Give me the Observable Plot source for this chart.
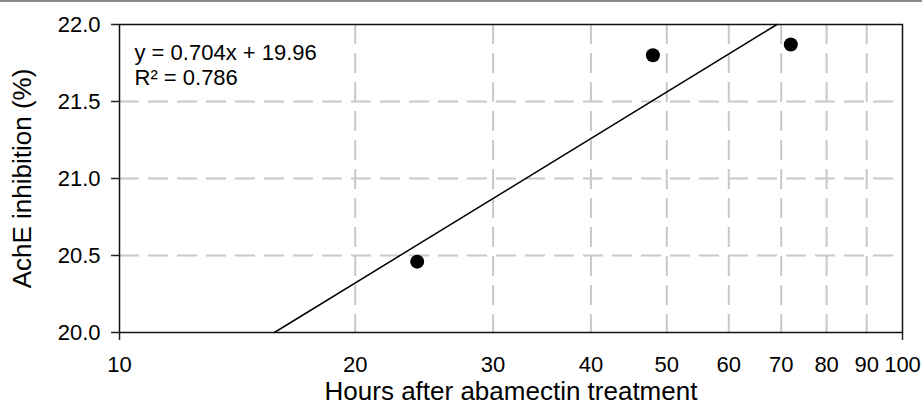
<!DOCTYPE html>
<html>
<head>
<meta charset="utf-8">
<script src="https://cdn.jsdelivr.net/npm/d3@7"></script>
<script src="https://cdn.jsdelivr.net/npm/@observablehq/plot@0.6"></script>
<style>
  html, body { margin: 0; padding: 0; background: #fff; }
  #wrap { position: relative; width: 922px; height: 406px; overflow: hidden; }
  #topline { position: absolute; left: 0; top: 0; width: 922px; height: 2px; background: #8a8a8a; }
  svg { font-family: "Liberation Sans", Arial, sans-serif; }
</style>
</head>
<body>
<div id="wrap"><div id="topline"></div></div>
<script>
// Data
const hours = [24, 48, 72];
const inhibition = [20.46, 21.80, 21.87];
const xTicks = [10, 20, 30, 40, 50, 60, 70, 80, 90, 100];
const yTicks = [20.0, 20.5, 21.0, 21.5, 22.0];
const equationLines = ["y = 0.704x + 19.96", "R² = 0.786"];
const xTitle = "Hours after abamectin treatment";
const yTitle = "AchE inhibition (%)";

const points = hours.map((h, i) => ({h, v: inhibition[i]}));

// Trendline: least-squares fit of value vs ln(hours) (straight on the log axis)
const lx = hours.map(Math.log);
const mx = d3.mean(lx), my = d3.mean(inhibition);
const sxy = d3.sum(lx, (x, i) => (x - mx) * (inhibition[i] - my));
const sxx = d3.sum(lx, x => (x - mx) ** 2);
const b = sxy / sxx, a = my - b * mx;
const yMin = yTicks[0], yMax = yTicks[yTicks.length - 1];
const trend = [yMin, yMax].map(v => ({h: Math.exp((v - a) / b), v}));

const gridStyle = {stroke: "#c8c8c8", strokeOpacity: 1, strokeWidth: 2, strokeDasharray: "20,9"};

const chart = Plot.plot({
  width: 922,
  height: 406,
  marginLeft: 119,
  marginRight: 20,
  marginTop: 24,
  marginBottom: 74,
  style: {fontFamily: "Liberation Sans, Arial, sans-serif", color: "#000", background: "transparent"},
  x: {type: "log", domain: [xTicks[0], xTicks[xTicks.length - 1]]},
  y: {domain: [yMin, yMax]},
  marks: [
    Plot.gridX(xTicks.slice(1, -1), gridStyle),
    Plot.gridY(yTicks.slice(1, -1), gridStyle),
    Plot.axisY(yTicks, {tickFormat: d3.format(".1f"), tickSize: 8, tickPadding: 11, fontSize: 22, label: null, stroke: "#222", strokeWidth: 1.5}),
    Plot.axisX([xTicks[0], xTicks[xTicks.length - 1]], {tickSize: 8, text: null, label: null, stroke: "#222", strokeWidth: 1.5}),
    Plot.axisX(xTicks, {tickSize: 0, tickPadding: 24, fontSize: 22, tickFormat: d3.format("d"), label: null}),
    Plot.frame({stroke: "#111", strokeWidth: 1.5}),
    Plot.line(trend, {x: "h", y: "v", stroke: "#000", strokeWidth: 1.5}),
    Plot.dot(points, {x: "h", y: "v", r: 7, fill: "#000", stroke: "none"}),
    Plot.text([equationLines.join("\n")], {frameAnchor: "top-left", dx: 15, dy: 18, lineAnchor: "top", textAnchor: "start", lineHeight: 1.14, fontSize: 22, fill: "#000"}),
    Plot.text([xTitle], {frameAnchor: "bottom", dy: 59, lineAnchor: "middle", textAnchor: "middle", fontSize: 26, fill: "#000"}),
    Plot.text([yTitle], {frameAnchor: "left", dx: -97, rotate: -90, lineAnchor: "middle", textAnchor: "middle", fontSize: 26, fill: "#000"})
  ]
});
document.getElementById("wrap").appendChild(chart);
</script>
</body>
</html>
